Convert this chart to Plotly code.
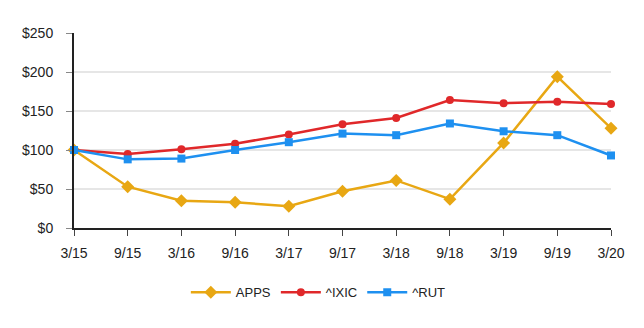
import plotly.graph_objects as go

categories = ["3/15", "9/15", "3/16", "9/16", "3/17", "9/17", "3/18", "9/18", "3/19", "9/19", "3/20"]
apps = [100, 53, 35, 33, 28, 47, 61, 37, 109, 194, 128]
ixic = [100, 95, 101, 108, 120, 133, 141, 164, 160, 162, 159]
rut = [100, 88, 89, 100, 110, 121, 119, 134, 124, 119, 93]
tick_vals = [0, 50, 100, 150, 200, 250]
tick_text = ["$0", "$50", "$100", "$150", "$200", "$250"]

fig = go.Figure()
fig.add_trace(go.Scatter(x=categories, y=apps, name="APPS", mode="lines+markers",
                         line=dict(color="#E8A713", width=2.5),
                         marker=dict(symbol="diamond", size=10, color="#E8A713"),
                         cliponaxis=False))
fig.add_trace(go.Scatter(x=categories, y=ixic, name="^IXIC", mode="lines+markers",
                         line=dict(color="#E0282A", width=2.5),
                         marker=dict(symbol="circle", size=8, color="#E0282A"),
                         cliponaxis=False))
fig.add_trace(go.Scatter(x=categories, y=rut, name="^RUT", mode="lines+markers",
                         line=dict(color="#1E90F0", width=2.5),
                         marker=dict(symbol="square", size=8, color="#1E90F0"),
                         cliponaxis=False))

fig.update_layout(
    width=644, height=328,
    margin=dict(l=74, r=33, t=33, b=100, autoexpand=False),
    plot_bgcolor="white", paper_bgcolor="white",
    font=dict(family="Liberation Sans, Arial, sans-serif", size=13, color="#222"),
    showlegend=True,
    legend=dict(orientation="h", x=0.455, xanchor="center", y=-0.33, yanchor="middle",
                font=dict(size=13), itemwidth=40),
    xaxis=dict(type="category", range=[0, 10], showgrid=False, showline=True,
               linecolor="#222", linewidth=2, ticks="outside", ticklen=6,
               tickcolor="#444", zeroline=False, tickfont=dict(size=14),
               ticklabelstandoff=5),
    yaxis=dict(range=[0, 250], tickvals=tick_vals, ticktext=tick_text, showgrid=True,
               gridcolor="#e6e6e6", gridwidth=1.5, showline=True, linecolor="#222",
               linewidth=2, ticks="outside", ticklen=6, tickcolor="#888",
               zeroline=False, tickfont=dict(size=14), ticklabelstandoff=10),
)

fig.write_html("out.html")
